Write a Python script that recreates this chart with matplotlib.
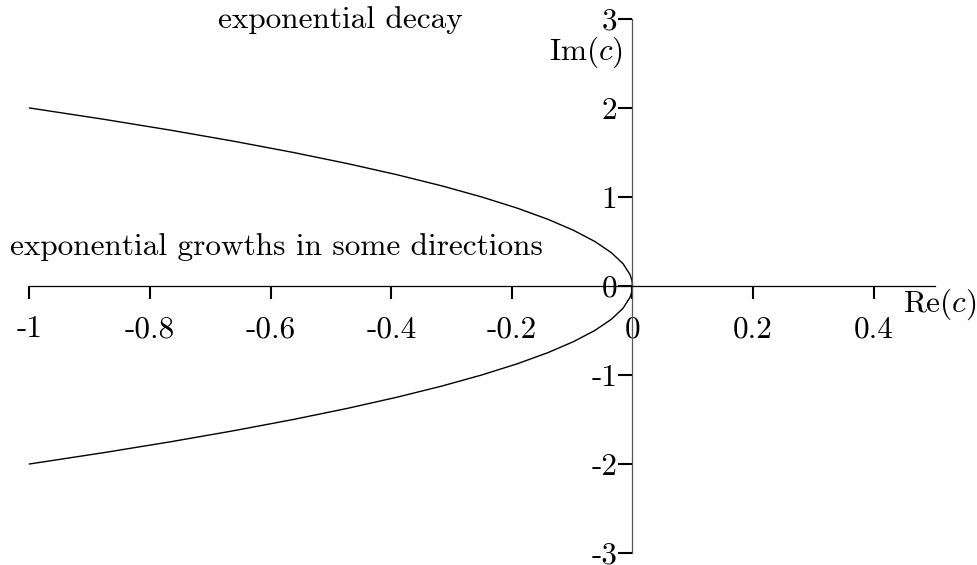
import numpy as np
import matplotlib.pyplot as plt

plt.rcParams['font.family'] = ['cmr10', 'DejaVu Serif']
plt.rcParams['mathtext.fontset'] = 'cm'
plt.rcParams['axes.formatter.use_mathtext'] = True

# upper half of the boundary curve, Im(c) >= 0; lower half is its mirror
im_half = [0.0, 0.0625, 0.125, 0.25, 0.375, 0.5, 0.625, 0.75, 0.875, 1.0,
           1.125, 1.25, 1.375, 1.5, 1.625, 1.75, 1.875, 2.0]
re_half = [0.0, -0.001, -0.0039, -0.0156, -0.0352, -0.0625, -0.0977, -0.1406, -0.1914, -0.25,
           -0.3164, -0.3906, -0.4727, -0.5625, -0.6602, -0.7656, -0.8789, -1.0]

xticks = [-1, -0.8, -0.6, -0.4, -0.2, 0, 0.2, 0.4]
xlabels = ['-1', '-0.8', '-0.6', '-0.4', '-0.2', '0', '0.2', '0.4']
yticks = [-3, -2, -1, 0, 1, 2, 3]
ylabels = ['-3', '-2', '-1', '0', '1', '2', '3']

im_c = np.concatenate([-np.array(im_half[::-1]), np.array(im_half[1:])])
re_c = np.concatenate([np.array(re_half[::-1]), np.array(re_half[1:])])

fs = 22.5

fig = plt.figure(figsize=(9.77, 5.65), dpi=100)
ax = fig.add_axes([0, 0, 1, 1])
ax.set_xlim(-1.0489, 0.5713)
ax.set_ylim(-3.135, 3.213)

ax.plot(re_c, im_c, color='black', lw=1.0)

# axes crossing at the origin
for s in ['top', 'right']:
    ax.spines[s].set_visible(False)
ax.spines['left'].set_position(('data', 0))
ax.spines['bottom'].set_position(('data', 0))
ax.spines['left'].set_bounds(-3, 3)
ax.spines['bottom'].set_bounds(-1, 0.502)
ax.spines['left'].set_color('#555555')
ax.spines['left'].set_linewidth(0.9)
ax.spines['bottom'].set_linewidth(0.9)

ax.set_xticks(xticks)
ax.set_xticklabels(xlabels)
ax.set_yticks(yticks)
ax.set_yticklabels(ylabels)
ax.tick_params(axis='x', direction='out', length=9, width=1.5, pad=12, labelsize=fs)
ax.tick_params(axis='y', direction='out', length=10, width=1.5, pad=1, labelsize=fs)

ax.text(0.4486, -0.21, 'Re$(c)$', fontsize=fs, ha='left', va='center')
ax.text(-0.016, 2.63, 'Im$(c)$', fontsize=fs, ha='right', va='center')
ax.text(-0.485, 2.99, 'exponential decay', fontsize=fs, ha='center', va='center')
ax.text(-1.033, 0.44, 'exponential growths in some directions', fontsize=fs,
        ha='left', va='center')

fig.savefig('out.png', dpi=100)
